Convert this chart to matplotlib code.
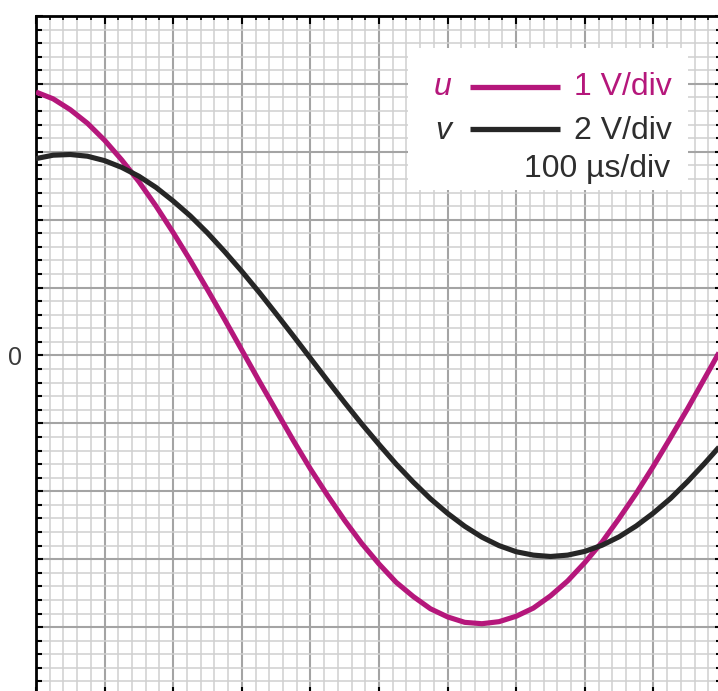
import matplotlib
matplotlib.use("Agg")
import matplotlib.pyplot as plt
from matplotlib.ticker import MultipleLocator
from matplotlib.lines import Line2D
from matplotlib.patches import Rectangle

# Sample times (µs) and the two traces (volts)
t_us = [0, 25, 50, 75, 100, 125, 150, 175, 200, 225, 250, 275, 300, 325,
        350, 375, 400, 425, 450, 475, 500, 525, 550, 575, 600, 625, 650,
        675, 700, 725, 750, 775, 800, 825, 850, 875, 900, 925, 950, 975, 1000]

u_volts = [3.88, 3.78, 3.62, 3.42, 3.17, 2.88, 2.56, 2.20, 1.81, 1.40, 0.97,
           0.53, 0.08, -0.37, -0.81, -1.25, -1.67, -2.06, -2.43, -2.77, -3.07,
           -3.34, -3.55, -3.73, -3.85, -3.93, -3.95, -3.92, -3.84, -3.72, -3.54,
           -3.32, -3.05, -2.75, -2.40, -2.03, -1.63, -1.21, -0.78, -0.33, 0.12]

v_volts = [5.80, 5.90, 5.92, 5.87, 5.74, 5.54, 5.28, 4.95, 4.55, 4.11, 3.61,
           3.06, 2.48, 1.87, 1.23, 0.58, -0.08, -0.74, -1.39, -2.02, -2.62,
           -3.20, -3.73, -4.22, -4.65, -5.03, -5.35, -5.60, -5.78, -5.88, -5.92,
           -5.88, -5.77, -5.59, -5.34, -5.02, -4.64, -4.21, -3.71, -3.17, -2.60]

# Channel settings
u_scale = 1      # V/div
v_scale = 2      # V/div
time_div = 100   # µs/div
channel_names = ["u", "v"]
channel_labels = ["1 V/div", "2 V/div"]
time_label = "100 µs/div"

MAGENTA = "#b5177b"
DARK = "#262626"
TEXT_DARK = "#2e2e2e"

plt.rcParams['font.family'] = ['Liberation Sans', 'DejaVu Sans']

W, H = 718, 691
fig = plt.figure(figsize=(W / 100, H / 100), dpi=100)


def fx(px):
    return px / W


def fy(py):
    return 1 - py / H


# Graticule: 10 x 10 divisions, partly beyond the canvas on the right and bottom
ax = fig.add_axes([fx(36), fy(695), (722 - 36) / W, (695 - 16) / H])
ax.set_xlim(0, 10 * time_div)
ax.set_ylim(-5, 5)

ax.xaxis.set_major_locator(MultipleLocator(time_div))
ax.xaxis.set_minor_locator(MultipleLocator(time_div / 5))
ax.yaxis.set_major_locator(MultipleLocator(1))
ax.yaxis.set_minor_locator(MultipleLocator(0.2))

ax.grid(which='major', color='#a4a4a4', lw=1.5)
ax.grid(which='minor', color='#d0d0d0', lw=1.1)
ax.set_axisbelow(True)

for s in ax.spines.values():
    s.set_color('black')
    s.set_linewidth(2.0)

ax.tick_params(axis='x', which='major', direction='in', top=True, bottom=True,
               length=6, width=1.5, labelbottom=False)
ax.tick_params(axis='x', which='minor', direction='in', top=True, bottom=True,
               length=3, width=1.2)
ax.tick_params(axis='y', which='major', direction='in', left=True, right=True,
               length=5, width=1.5, pad=10)
ax.tick_params(axis='y', which='minor', direction='in', left=True, right=True,
               length=4, width=1.5)

yt = list(range(-5, 6))
ax.set_yticks(yt)
ax.set_yticklabels(["0" if y == 0 else "" for y in yt], fontsize=18,
                   color='#3a3a3a')

# Traces in divisions
ax.plot(t_us, [u / u_scale for u in u_volts], color=MAGENTA, lw=3.7,
        solid_joinstyle='round', solid_capstyle='butt', zorder=3)
ax.plot(t_us, [v / v_scale for v in v_volts], color=DARK, lw=3.7,
        solid_joinstyle='round', solid_capstyle='butt', zorder=3)

# Channel key
tf = fig.transFigure
ax.add_patch(Rectangle((fx(408), fy(190)), (688 - 408) / W, (190 - 48) / H,
                       transform=tf, facecolor='white', edgecolor='none',
                       zorder=2.5, clip_on=False))

rows = [(87, 95, MAGENTA, MAGENTA), (129, 139, DARK, TEXT_DARK)]
for (yl, yb, col, tcol), name, lab in zip(rows, channel_names, channel_labels):
    ax.add_line(Line2D([fx(470), fx(560)], [fy(yl), fy(yl)], transform=tf,
                       color=col, lw=3.8, solid_capstyle='butt',
                       clip_on=False, zorder=4))
    ax.text(fx(443), fy(yb), name, transform=tf, color=tcol, fontsize=23,
            fontstyle='italic', ha='center', va='baseline', zorder=5)
    ax.text(fx(574), fy(yb), lab, transform=tf, color=tcol, fontsize=23,
            ha='left', va='baseline', zorder=5)

ax.text(fx(670), fy(177), time_label, transform=tf, color=TEXT_DARK,
        fontsize=23, ha='right', va='baseline', zorder=5)

fig.savefig("out.png", dpi=100)
